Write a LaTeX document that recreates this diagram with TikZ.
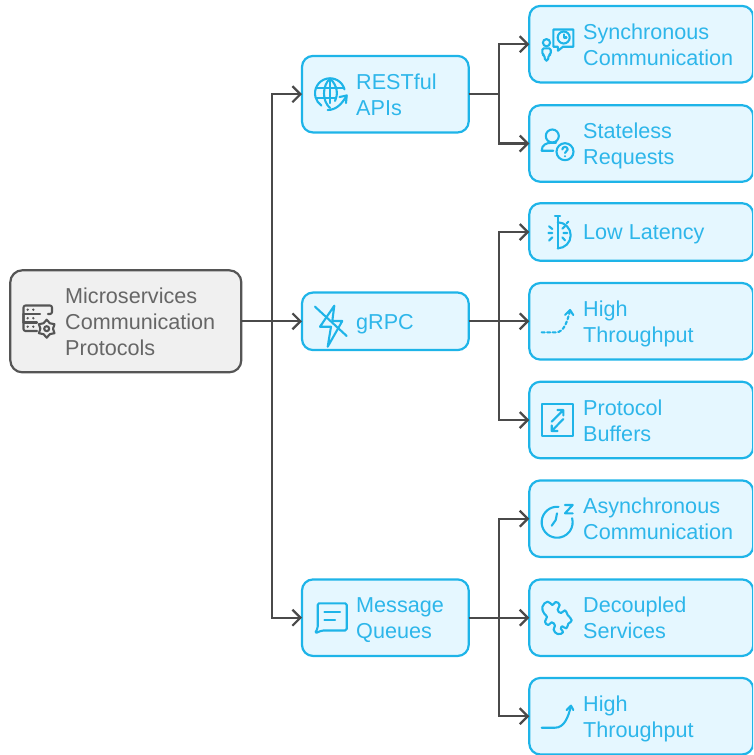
\documentclass[tikz,border=0pt]{standalone}
\usepackage{fontspec}
\setmainfont{Liberation Sans}
\usetikzlibrary{arrows.meta}
\definecolor{skyline}{HTML}{1EB4E8}
\definecolor{skyfill}{HTML}{E5F7FF}
\definecolor{skytext}{HTML}{2DB6EA}
\definecolor{greyline}{HTML}{555555}
\definecolor{greyfill}{HTML}{F0F0F0}
\definecolor{greytext}{HTML}{666666}
\definecolor{wire}{HTML}{4A4A4A}
\tikzset{
  bluebox/.style={draw=skyline,fill=skyfill,line width=2.2pt,rounded corners=11pt,inner sep=0pt,outer sep=0pt,anchor=west},
  midbox/.style={bluebox,minimum width=166.7pt},
  leafbox/.style={bluebox,minimum width=224pt},
  tall/.style={minimum height=76.5pt},
  short/.style={minimum height=57.5pt},
  greybox/.style={draw=greyline,fill=greyfill,line width=2.2pt,rounded corners=12pt,inner sep=0pt,outer sep=0pt,anchor=west,minimum width=231pt,minimum height=102pt},
  caption/.style={anchor=west,align=left,inner sep=0pt,yshift=-4.2pt,font=\fontsize{21.6}{26}\selectfont,text=skytext,
    execute at begin node=\strut,execute at end node=\strut},
  oneline/.style={yshift=1.5pt},
  link/.style={draw=wire,line width=2.2pt,-{Straight Barb[length=8pt,width=16pt,line width=2.2pt]}},
  trunk/.style={draw=wire,line width=2.2pt},
  icon/.style={draw=skyline,line width=2.1pt,line cap=round,line join=round},
  greyicon/.style={draw=greyline,line width=2.1pt,line cap=round,line join=round}
}
\begin{document}
\begin{tikzpicture}[x=1pt,y=-1pt]
  \useasboundingbox[clip] (0,0) rectangle (753,755);

  \node[greybox] (root) at (10.3,321.3) {};
  \node[midbox,tall] (rest) at (302,94.2) {};
  \node[midbox,short] (grpc) at (302,321.3) {};
  \node[midbox,tall] (queue) at (302,617.7) {};
  \node[leafbox,tall] (sync) at (529.3,44.2) {};
  \node[leafbox,tall] (stateless) at (529.3,143.5) {};
  \node[leafbox,short] (latency) at (529.3,232) {};
  \node[leafbox,tall] (rate) at (529.3,321.3) {};
  \node[leafbox,tall] (buffers) at (529.3,420) {};
  \node[leafbox,tall] (async) at (529.3,518.7) {};
  \node[leafbox,tall] (decoupled) at (529.3,617.7) {};
  \node[leafbox,tall] (rateb) at (529.3,716.2) {};

  \node[caption,text=greytext] (roottext) at (65,321.3) {Microservices\\Communication\\Protocols};
  \node[caption] (resttext) at (356,94.2) {RESTful\\APIs};
  \node[caption,oneline] (grpctext) at (356,321.3) {gRPC};
  \node[caption] (queuetext) at (356,617.7) {Message\\Queues};
  \node[caption] (synctext) at (583,44.2) {Synchronous\\Communication};
  \node[caption] (statelesstext) at (583,143.5) {Stateless\\Requests};
  \node[caption,oneline] (latencytext) at (583,232) {Low Latency};
  \node[caption] (ratetext) at (583,321.3) {High\\Throughput};
  \node[caption] (bufferstext) at (583,420) {Protocol\\Buffers};
  \node[caption] (asynctext) at (583,518.7) {Asynchronous\\Communication};
  \node[caption] (decoupledtext) at (583,617.7) {Decoupled\\Services};
  \node[caption] (ratebtext) at (583,716.2) {High\\Throughput};

  \coordinate (rootfork) at (272,321.3);
  \coordinate (restfork) at (499,94.2);
  \coordinate (grpcfork) at (499,321.3);
  \coordinate (queuefork) at (499,617.7);

  \draw[trunk] (root.east) -- (rootfork);
  \draw[link] (rootfork) |- (rest.west);
  \draw[link] (rootfork) -- (grpc.west);
  \draw[link] (rootfork) |- (queue.west);
  \draw[trunk] (rest.east) -- (restfork);
  \draw[link] (restfork) |- (sync.west);
  \draw[link] (restfork) |- (stateless.west);
  \draw[trunk] (grpc.east) -- (grpcfork);
  \draw[link] (grpcfork) |- (latency.west);
  \draw[link] (grpcfork) -- (rate.west);
  \draw[link] (grpcfork) |- (buffers.west);
  \draw[trunk] (queue.east) -- (queuefork);
  \draw[link] (queuefork) |- (async.west);
  \draw[link] (queuefork) -- (decoupled.west);
  \draw[link] (queuefork) |- (rateb.west);

  \draw[greyicon,rounded corners=2pt] (23.5,322.5) -- (23.5,305.5) -- (52,305.5) -- (52,314) -- (48,314);
  \draw[greyicon,rounded corners=2pt] (23.5,314) -- (40,314);
  \draw[greyicon,rounded corners=2pt] (23.5,314) -- (23.5,331) -- (37,331);
  \draw[greyicon] (23.5,322.5) -- (37,322.5);
  \fill[greyline] (27.7,309.7) circle (1.3) (33.3,309.7) circle (1.3)
    (27.7,318.2) circle (1.3) (33.3,318.2) circle (1.3)
    (27.7,326.7) circle (1.3) (33.3,326.7) circle (1.3);
  \draw[greyicon,shift={(46.7,328.7)}] (90:9) -- (60:6.3) -- (30:9) -- (0:6.3) -- (-30:9) -- (-60:6.3)
    -- (-90:9) -- (-120:6.3) -- (-150:9) -- (180:6.3) -- (150:9) -- (120:6.3) -- cycle (0,0) circle (2.5);

  \draw[icon] (344.5,89.4) arc[start angle=-15,end angle=-235,radius=15];
  \draw[icon] (330,78.5) .. controls (322,86) and (322,101) .. (330,108);
  \draw[icon] (330,78.5) .. controls (338,86) and (338,95) .. (335,101);
  \draw[icon] (330,78.5) -- (330,103);
  \draw[icon] (316,88.3) -- (344,88.3) (316,98.3) -- (336,98.3);
  \draw[icon] (327.7,110) .. controls (336,110) and (342,104) .. (346.7,95.5);
  \draw[icon] (339.5,97) -- (346.7,95.5) -- (346,103);

  \draw[icon] (334.3,305.7) -- (320,326.7) -- (331,326.7) -- (327.7,346.7) -- (342.3,321) -- (332.3,321) -- cycle;
  \draw[icon] (315,306.7) -- (346.7,336);

  \draw[icon,rounded corners=1.5pt] (320,603.3) -- (346.7,603.3) -- (346.7,630.5) -- (322,630.5) -- (315,633.3) -- (317.7,628) -- (317.7,603.3) -- cycle;
  \draw[icon] (324.3,611.7) -- (340,611.7) (324.3,620) -- (335,620);

  \draw[icon] (546.5,42.7) circle (3.6);
  \draw[icon,rounded corners=1.5pt] (542.3,48.3) -- (550.7,48.3) -- (550.7,54.5) -- (548.8,55) -- (547.8,60.7) -- (545.2,60.7) -- (544.2,55) -- (542.3,54.5) -- cycle;
  \draw[icon] (557.7,46.7) -- (553.3,46.7) -- (553.3,29.5) -- (573.3,29.5) -- (573.3,46.7) -- (563,46.7) -- (558,50.7) -- cycle;
  \draw[icon] (563.7,37.5) circle (6);
  \draw[icon] (563.7,34.3) -- (563.7,37.5) -- (566.5,37.5);

  \draw[icon] (552.3,136) circle (6.5);
  \draw[icon] (553.3,150.7) -- (541.7,150.7) .. controls (541.7,145) and (546,142.7) .. (552.3,142.7) -- (556,142.7);
  \draw[icon] (565,151.7) circle (8.5);
  \draw[icon] (562.3,149.5) arc[start angle=180,end angle=360,radius=2.7] -- (565,153);
  \fill[skyline] (565,156.2) circle (1.1);

  \draw[icon] (555,216.3) -- (560,216.3) (557.7,216.3) -- (557.7,248.5);
  \draw[icon] (557.7,222.3) arc[start angle=-90,end angle=90,radius=13];
  \draw[icon] (566.5,223.5) -- (568.3,221.7);
  \draw[icon] (548.3,233) -- (552.3,233) (549,226.3) -- (552.3,229) (549,240.7) -- (552.3,237.3);
  \draw[icon] (563.3,233) -- (567.3,233) (562.3,228.7) -- (565,226.3) (562.3,237.3) -- (565,240.3);

  \draw[icon,dash pattern=on 3pt off 2.5pt] (541.7,332.3) -- (556,332.3) .. controls (564,332.3) and (567,322) .. (570,311);
  \draw[icon] (565,315) -- (570,310) -- (573.3,315);

  \draw[icon] (542.3,404.3) rectangle (573.3,435.7);
  \draw[icon] (551.7,421.7) -- (563.3,410) (557.5,410) -- (563.3,410) -- (563.3,415.5);
  \draw[icon] (563.3,419) -- (551.7,431) (551.7,425.5) -- (551.7,431) -- (557.5,431);

  \draw[icon] (558.5,506.8) arc[start angle=-85,end angle=-375,radius=15.5];
  \draw[icon] (557,513.3) -- (555.7,520) -- (551.7,525.7);
  \draw[icon] (565,505) -- (572.7,505) -- (565,513.3) -- (572.7,513.3);

  \draw[icon,shift={(535,593)},scale=.3333] plot[smooth cycle,tension=.9] coordinates {(22,42) (38,26) (52,36) (62,27) (74,36) (68,50) (78,60) (90,52) (98,66) (110,82) (100,92) (94,106) (82,100) (78,108) (84,118) (68,123) (56,110) (60,98) (50,88) (40,96) (30,86) (36,72) (28,62)};

  \draw[icon] (541.7,727.7) -- (555,727.7) .. controls (564,727.7) and (568,718) .. (571,706);
  \draw[icon] (566.7,710) -- (571,705.7) -- (573.3,710);
\end{tikzpicture}
\end{document}
